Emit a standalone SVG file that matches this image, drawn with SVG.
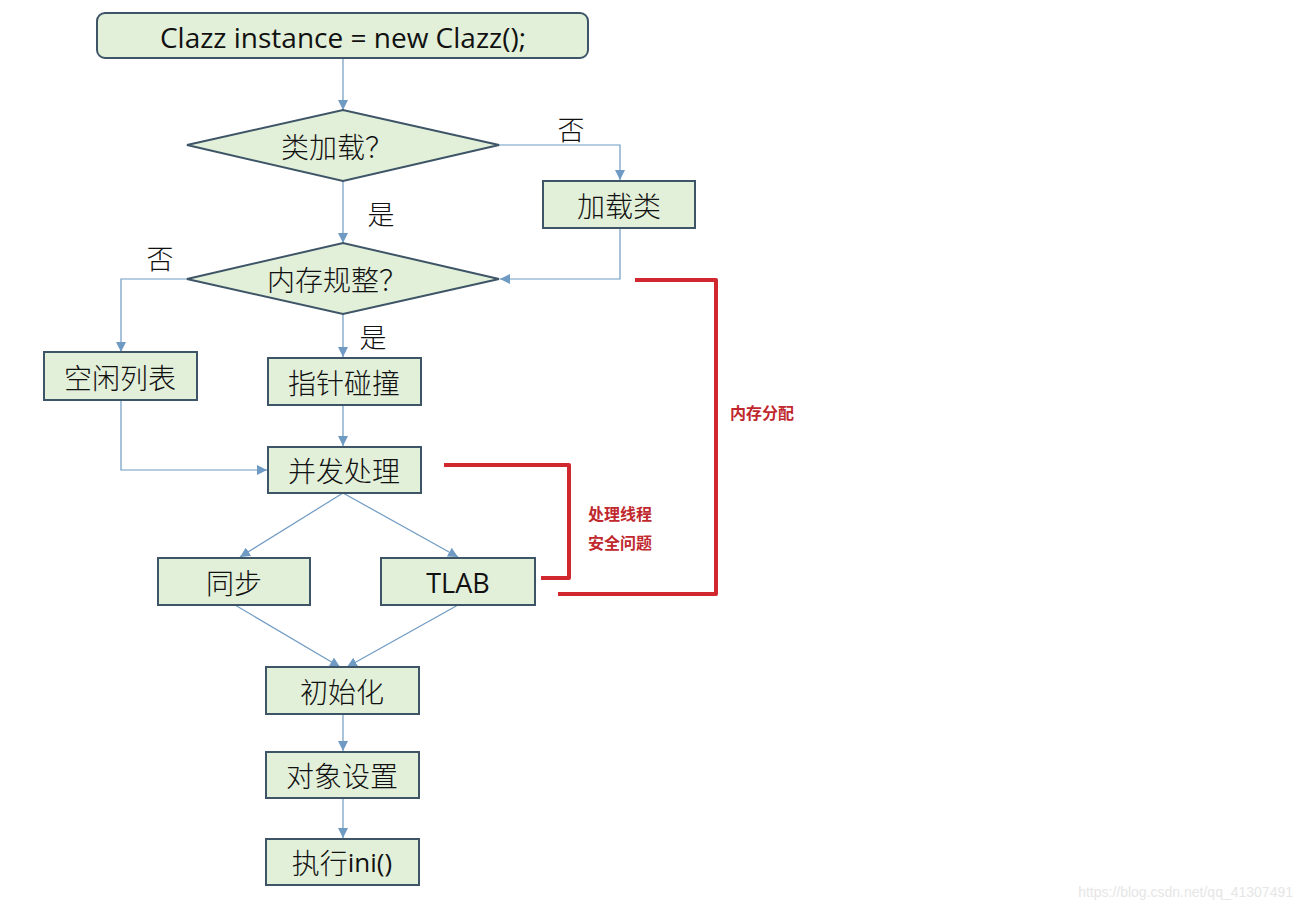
<svg xmlns="http://www.w3.org/2000/svg" width="1300" height="910" viewBox="0 0 1300 910">
<defs>
<marker id="arr" viewBox="0 0 10 10" refX="10" refY="5" markerWidth="10" markerHeight="10" markerUnits="userSpaceOnUse" orient="auto">
<path d="M0,0 L10,5 L0,10 z" fill="#6f9ac3"/>
</marker>
<style>
.box{fill:#e2efd9;stroke:#3e5567;stroke-width:2}
.cn{font-family:"Noto Sans CJK SC",sans-serif;font-size:28px;font-weight:300;fill:#111;text-anchor:middle;dominant-baseline:central}
.lat{font-family:"Open Sans","Liberation Sans",sans-serif;font-size:27px;fill:#111;text-anchor:middle;dominant-baseline:central}
.big{font-size:28px}
.lbl{font-family:"Noto Sans CJK SC",sans-serif;font-size:27px;font-weight:300;fill:#111;text-anchor:middle;dominant-baseline:central}
.conn{fill:none;stroke:#6f9ac3;stroke-width:1.2}
.red{fill:none;stroke:#d0282e;stroke-width:4;stroke-linejoin:round}
.rt{font-family:"Noto Sans CJK SC",sans-serif;font-size:16px;font-weight:bold;fill:#c0282e}
</style>
</defs>
<rect width="1300" height="910" fill="#ffffff"/>
<g id="connectors">
<path class="conn" d="M343,58 V110" marker-end="url(#arr)"/>
<path class="conn" d="M499,145 H620 V180" marker-end="url(#arr)"/>
<path class="conn" d="M343,181 V243" marker-end="url(#arr)"/>
<path class="conn" d="M620,228 V279 H500" marker-end="url(#arr)"/>
<path class="conn" d="M187,279 H121 V352" marker-end="url(#arr)"/>
<path class="conn" d="M343,314 V357" marker-end="url(#arr)"/>
<path class="conn" d="M343,405 V446" marker-end="url(#arr)"/>
<path class="conn" d="M121,400 V470 H267" marker-end="url(#arr)"/>
<path class="conn" d="M343,493 L240,557" marker-end="url(#arr)"/>
<path class="conn" d="M343,493 L458,557" marker-end="url(#arr)"/>
<path class="conn" d="M235,605 L340,667" marker-end="url(#arr)"/>
<path class="conn" d="M458,605 L347,667" marker-end="url(#arr)"/>
<path class="conn" d="M343,714 V751" marker-end="url(#arr)"/>
<path class="conn" d="M343,798 V838" marker-end="url(#arr)"/>
</g>
<g id="labels">
<text class="lbl" x="571" y="128">否</text>
<text class="lbl" x="381" y="213">是</text>
<text class="lbl" x="160" y="257">否</text>
<text class="lbl" x="373" y="336">是</text>
</g>
<g id="n-start"><rect class="box" x="97" y="13" width="491" height="45" rx="8"/><text class="lat big" x="343" y="37">Clazz instance = new Clazz();</text></g>
<g id="n-classload"><polygon class="box" points="187,145 343,110 499,145 343,181"/><text class="cn" x="337" y="146">类加载？</text></g>
<g id="n-loadclass"><rect class="box" x="543" y="181" width="152" height="47"/><text class="cn" x="619" y="205">加载类</text></g>
<g id="n-regular"><polygon class="box" points="187,279 343,243 499,279 343,314"/><text class="cn" x="337" y="279">内存规整？</text></g>
<g id="n-freelist"><rect class="box" x="44" y="352" width="153" height="48"/><text class="cn" x="120" y="377">空闲列表</text></g>
<g id="n-bump"><rect class="box" x="268" y="358" width="153" height="47"/><text class="cn" x="344" y="382">指针碰撞</text></g>
<g id="n-concurrent"><rect class="box" x="268" y="447" width="153" height="46"/><text class="cn" x="344" y="470">并发处理</text></g>
<g id="n-sync"><rect class="box" x="158" y="558" width="152" height="47"/><text class="cn" x="234" y="582">同步</text></g>
<g id="n-tlab"><rect class="box" x="381" y="558" width="154" height="47"/><text class="lat" x="458" y="582">TLAB</text></g>
<g id="n-init"><rect class="box" x="266" y="667" width="153" height="47"/><text class="cn" x="342" y="691">初始化</text></g>
<g id="n-setup"><rect class="box" x="266" y="752" width="153" height="46"/><text class="cn" x="342" y="775">对象设置</text></g>
<g id="n-exec"><rect class="box" x="266" y="839" width="153" height="46"/><text class="cn" x="342" y="862">执行<tspan font-family="Open Sans, Liberation Sans, sans-serif" font-size="26" font-weight="normal">ini()</tspan></text></g>
<g id="brackets">
<path class="red" d="M635,280 H716 V594 H558"/>
<path class="red" d="M444,465 H569 V578 H541"/>
<text class="rt" x="730" y="419">内存分配</text>
<text class="rt" x="588" y="520">处理线程</text>
<text class="rt" x="588" y="549">安全问题</text>
</g>
<text x="1293" y="897" text-anchor="end" font-family="Liberation Sans, sans-serif" font-size="14" fill="#e6e6e6">https://blog.csdn.net/qq_41307491</text>
</svg>
